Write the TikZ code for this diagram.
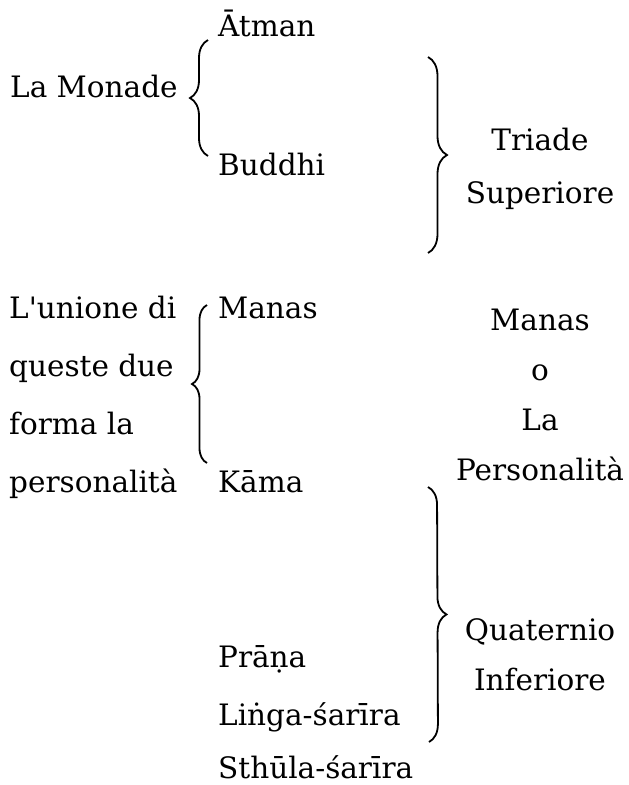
\documentclass[tikz,border=0pt]{standalone}
\usepackage{fontspec}
\setmainfont{DejaVu Serif}[Ligatures=TeXOff]
\usetikzlibrary{decorations.pathreplacing}

\tikzset{
  lbl/.style={inner sep=0pt, anchor=base west, font=\fontsize{29.5}{34}\selectfont},
  ctr/.style={inner sep=0pt, anchor=base, font=\fontsize{29.5}{34}\selectfont},
  brc/.style={decorate, line width=1.8pt, decoration={brace, amplitude=#1}},
}

\begin{document}
\begin{tikzpicture}[x=1pt,y=1pt,yscale=-1,xscale=1]
\useasboundingbox (0,0) rectangle (629,785);

% Text Node
\draw (218,36) node[lbl] (atman) {Ātman};
% Text Node
\draw (10,97) node[lbl] (monade) {La Monade};
% Text Node
\draw (218,175) node[lbl] (buddhi) {Buddhi};
% Text Node
\draw (540,150) node[ctr] (triade) {Triade};
% Text Node
\draw (540,203) node[ctr] (superiore) {Superiore};

% Text Node
\draw (9,318) node[lbl] (unione1) {L'unione di};
\draw (9,376) node[lbl] (unione2) {queste due};
\draw (9,434) node[lbl] (unione3) {forma la};
\draw (9,492) node[lbl] (unione4) {personalità};
% Text Node
\draw (218,318) node[lbl] (manas) {Manas};
% Text Node
\draw (218,492) node[lbl] (kama) {Kāma};
% Text Node
\draw (540,330) node[ctr] (manas2) {Manas};
\draw (540,380) node[ctr] (oo) {o};
\draw (540,430) node[ctr] (la) {La};
\draw (540,480) node[ctr] (person) {Personalità};

% Text Node
\draw (218,667) node[lbl] (prana) {Prāṇa};
% Text Node
\draw (218,725) node[lbl] (linga) {Liṅga-śarīra};
% Text Node
\draw (218,778) node[lbl] (sthula) {Sthūla-śarīra};
% Text Node
\draw (540,640) node[ctr] (quat) {Quaternio};
\draw (540,690) node[ctr] (infer) {Inferiore};

%Braces
\coordinate (monTop) at (208,40);
\coordinate (monBot) at (208,156);
\draw [brc=18pt] (monBot) -- (monTop);

\coordinate (triTop) at (428,57);
\coordinate (triBot) at (428,253);
\draw [brc=19pt] (triTop) -- (triBot);

\coordinate (perTop) at (207,305);
\coordinate (perBot) at (207,463);
\draw [brc=15pt] (perBot) -- (perTop);

\coordinate (quaTop) at (428,487);
\coordinate (quaBot) at (429,742);
\draw [brc=18pt] (quaTop) -- (quaBot);

\end{tikzpicture}
\end{document}
